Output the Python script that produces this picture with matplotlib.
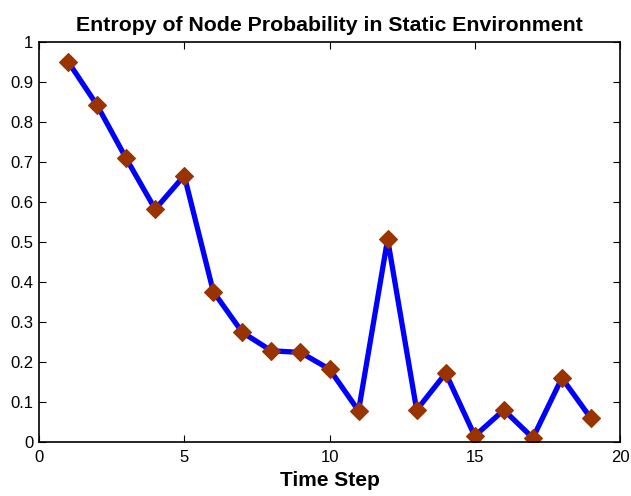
import numpy as np
import matplotlib
matplotlib.use('Agg')
import matplotlib.pyplot as plt

plt.rcParams['font.family'] = ['Liberation Sans', 'DejaVu Sans']

time_step = [1, 2, 3, 4, 5, 6, 7, 8, 9, 10, 11, 12, 13, 14, 15, 16, 17, 18, 19]
entropy = [0.951, 0.842, 0.709, 0.582, 0.666, 0.376, 0.274, 0.228, 0.224,
           0.182, 0.078, 0.507, 0.080, 0.172, 0.015, 0.080, 0.010, 0.160, 0.059]

fig = plt.figure(figsize=(6.31, 4.96), dpi=100)
ax = fig.add_axes([0.0618, 0.1089, 0.9208, 0.8064])

ax.plot(time_step, entropy, color='#0000ff', linewidth=3.8,
        marker='D', markersize=8.8, markerfacecolor='#993300',
        markeredgecolor='#993300', markeredgewidth=0.8)

ax.set_xlim(0, 20)
ax.set_ylim(0, 1)
ax.set_xticks(np.arange(0, 21, 5))
ax.set_yticks(np.arange(0, 1.01, 0.1))
ax.set_yticklabels(['0', '0.1', '0.2', '0.3', '0.4', '0.5', '0.6', '0.7',
                    '0.8', '0.9', '1'])
ax.tick_params(direction='in', top=True, right=True, length=5, width=0.8,
               labelsize=12)
ax.tick_params(axis='x', pad=5.5)
ax.tick_params(axis='y', pad=4)
for s in ax.spines.values():
    s.set_linewidth(1.2)

ax.set_xlabel('Time Step', fontsize=15, fontweight='bold', labelpad=4.5)
ax.set_title('Entropy of Node Probability in Static Environment',
             fontsize=15.3, fontweight='bold', pad=8)

fig.savefig('out.png', dpi=100)
